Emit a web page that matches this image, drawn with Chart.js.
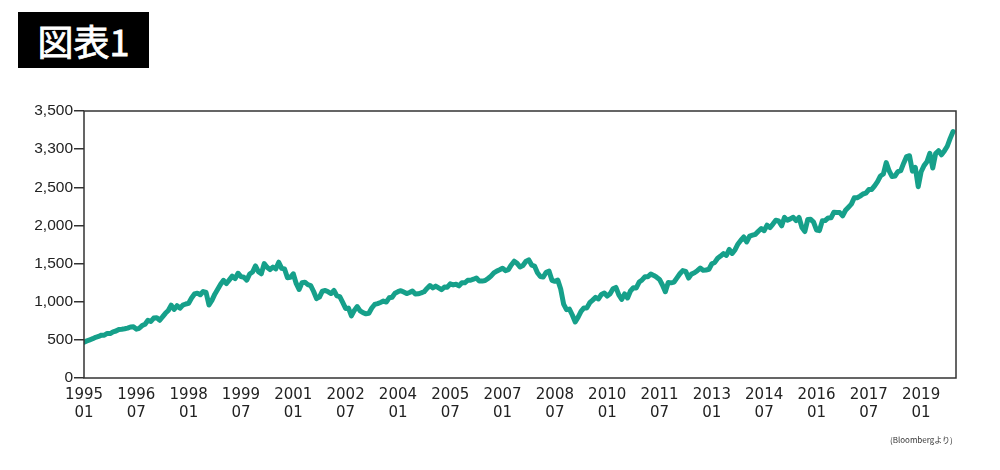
<!DOCTYPE html>
<html>
<head>
<meta charset="utf-8">
<script src="https://cdn.jsdelivr.net/npm/chart.js@4"></script>
<style>
body { margin: 0; background: #fff; }
#wrap { position: relative; width: 1000px; height: 470px; }
#title {
    position: absolute; left: 18px; top: 12px; width: 131px; height: 56px;
    background: #000; color: #fff; font: 400 36px "Noto Sans CJK JP", sans-serif;
    -webkit-text-stroke: 0.8px #fff;
    line-height: 56px; text-align: center;
}
#src {
    position: absolute; left: 890px; top: 434px;
    font: 8px "Noto Sans CJK JP", sans-serif; color: #333;
}
</style>
</head>
<body>
<div id="wrap">
<canvas id="myChart" width="1000" height="470"></canvas>
<div id="title">図表1</div>
<div id="src">(Bloombergより)</div>
</div>
<script>
// S&P500 monthly close, 1995/01 - 2019/12
var sp500 = [
    470, 487, 501, 515, 533, 545, 562, 562, 584, 582, 605, 616,
    636, 640, 646, 654, 669, 671, 640, 652, 687, 705, 757, 741,
    786, 791, 757, 801, 848, 885, 954, 899, 947, 915, 955, 970,
    980, 1049, 1102, 1112, 1091, 1134, 1121, 957, 1017, 1099, 1164, 1229,
    1280, 1238, 1286, 1335, 1302, 1373, 1329, 1320, 1283, 1363, 1389, 1469,
    1394, 1366, 1499, 1452, 1421, 1455, 1431, 1518, 1437, 1429, 1315, 1320,
    1366, 1240, 1160, 1249, 1256, 1224, 1211, 1134, 1041, 1060, 1139, 1148,
    1130, 1107, 1147, 1077, 1067, 990, 912, 916, 815, 886, 936, 880,
    856, 841, 848, 917, 964, 975, 990, 1008, 996, 1051, 1058, 1112,
    1131, 1145, 1126, 1107, 1121, 1141, 1102, 1104, 1115, 1130, 1174, 1212,
    1181, 1204, 1181, 1157, 1192, 1191, 1234, 1220, 1229, 1207, 1249, 1248,
    1280, 1281, 1295, 1311, 1270, 1270, 1277, 1304, 1336, 1378, 1401, 1418,
    1438, 1407, 1421, 1482, 1531, 1503, 1455, 1474, 1527, 1549, 1481, 1468,
    1379, 1331, 1323, 1386, 1400, 1280, 1267, 1283, 1166, 969, 896, 903,
    826, 735, 798, 873, 919, 919, 987, 1021, 1057, 1036, 1096, 1115,
    1074, 1104, 1169, 1187, 1089, 1031, 1102, 1049, 1141, 1183, 1181, 1258,
    1286, 1327, 1326, 1364, 1345, 1321, 1292, 1219, 1131, 1253, 1247, 1258,
    1312, 1366, 1408, 1398, 1310, 1362, 1379, 1407, 1441, 1412, 1416, 1426,
    1498, 1515, 1569, 1598, 1631, 1606, 1686, 1633, 1682, 1757, 1806, 1848,
    1783, 1859, 1872, 1884, 1924, 1960, 1931, 2003, 1972, 2018, 2068, 2059,
    1995, 2105, 2068, 2086, 2107, 2063, 2104, 1972, 1920, 2079, 2080, 2044,
    1940, 1932, 2060, 2065, 2097, 2099, 2174, 2171, 2168, 2126, 2199, 2239,
    2279, 2364, 2363, 2384, 2412, 2423, 2470, 2472, 2519, 2575, 2648, 2674,
    2824, 2714, 2641, 2648, 2705, 2718, 2816, 2902, 2914, 2712, 2760, 2507,
    2704, 2784, 2834, 2946, 2752, 2942, 2980, 2926, 2977, 3038, 3141, 3231
];

// x tick labels, every 18 months from 1995/01
var tickYears = ["1995", "1996", "1998", "1999", "2001", "2002", "2004", "2005", "2007",
    "2008", "2010", "2011", "2013", "2014", "2016", "2017", "2019"];
var tickMonths = ["01", "07", "01", "07", "01", "07", "01", "07", "01",
    "07", "01", "07", "01", "07", "01", "07", "01"];

// y tick labels as printed (0 to 3,500 by 500)
var yTickLabels = ["0", "500", "1,000", "1,500", "2,000", "2,500", "3,300", "3,500"];

var points = sp500.map(function (v, i) { return { x: i, y: v }; });

var frame = {
    id: "frame",
    afterDraw: function (chart) {
        var a = chart.chartArea;
        var c = chart.ctx;
        c.save();
        c.strokeStyle = "#333";
        c.lineWidth = 1.5;
        c.strokeRect(a.left, a.top, a.right - a.left, a.bottom - a.top);
        c.restore();
    }
};

var ctx = document.getElementById("myChart");
var myChart = new Chart(ctx, {
    type: "line",
    data: {
        datasets: [{
            data: points,
            borderColor: "#16a08a",
            borderWidth: 5,
            borderJoinStyle: "round",
            borderCapStyle: "round",
            pointRadius: 0,
            tension: 0,
            fill: false,
        }, ],
    },
    options: {
        responsive: false,
        animation: false,
        maintainAspectRatio: false,
        layout: { padding: { top: 111, right: 44, bottom: 40, left: 0 } },
        plugins: { legend: { display: false }, tooltip: { enabled: false } },
        scales: {
            x: {
                type: "linear",
                min: 0,
                max: 300,
                grid: { display: false },
                border: { display: false },
                afterFit: function (s) { s.height = 52; },
                ticks: {
                    stepSize: 18,
                    includeBounds: false,
                    maxRotation: 0,
                    autoSkip: false,
                    padding: 0,
                    color: "#222",
                    font: { family: "DejaVu Sans", size: 15 },
                    callback: function (v) {
                        var k = Math.round(v / 18);
                        return [tickYears[k], tickMonths[k]];
                    },
                },
            },
            y: {
                min: 0,
                max: 3500,
                afterFit: function (s) { s.width = 84; },
                grid: { drawOnChartArea: false, drawTicks: true, tickLength: 10, color: "#333", lineWidth: 1.5 },
                border: { display: false },
                ticks: {
                    stepSize: 500,
                    padding: 1,
                    color: "#222",
                    font: { family: "Liberation Sans", size: 15.5 },
                    callback: function (v) { return yTickLabels[Math.round(v / 500)]; },
                },
            },
        },
    },
    plugins: [frame],
});
</script>
</body>
</html>
